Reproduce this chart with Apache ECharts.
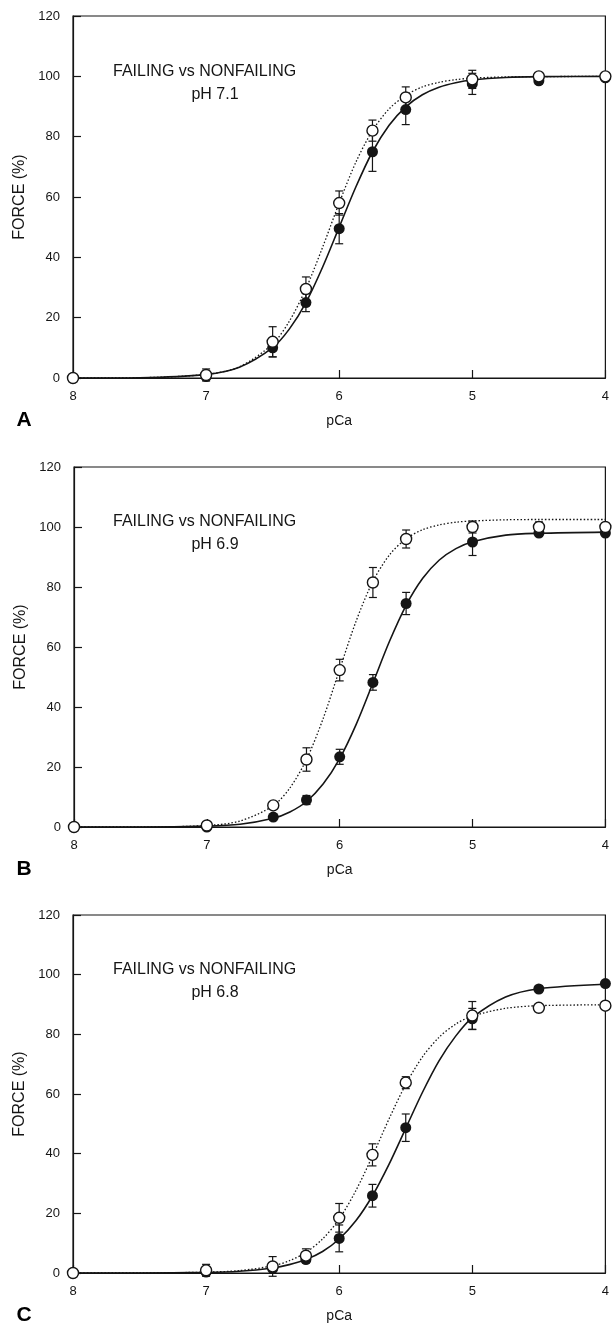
<!DOCTYPE html>
<html>
<head>
<meta charset="utf-8">
<script src="https://cdn.jsdelivr.net/npm/echarts@6.0.0/dist/echarts.min.js"></script>
<style>
  html, body { margin: 0; padding: 0; background: #fff; }
  #main { width: 612px; height: 1330px; }
</style>
</head>
<body>
<div id="main"></div>
<script>
// measured pCa steps
const pCa = [8, 7, 6.5, 6.25, 6, 5.75, 5.5, 5, 4.5, 4];
const xTicks = [8, 7, 6, 5, 4];
const yTicks = [0, 20, 40, 60, 80, 100, 120];

// A  pH 7.1
const failA = [0, 0.5, 10, 25, 49.5, 75, 89, 97.5, 98.5, 99.5];
const failAErr = [0, 0, 3, 3, 5, 6.5, 5, 3.5, 1, 0];
const nonA = [0, 1, 12, 29.5, 58, 82, 93, 99, 100, 100];
const nonAErr = [0, 2, 5, 4, 4, 3.5, 3.5, 3, 0.5, 0];
// B  pH 6.9
const failB = [0, 0, 3.3, 9, 23.4, 48.2, 74.5, 95, 98, 98];
const failBErr = [0, 0, 0.5, 1.5, 2.5, 2.6, 3.7, 4.5, 1, 0];
const nonB = [0, 0.5, 7.2, 22.5, 52.3, 81.5, 96, 100, 100, 100];
const nonBErr = [0, 0, 1, 3.9, 3.6, 5, 3, 2, 1.7, 0];
// C  pH 6.8
const failC = [0, 0.3, 1.5, 4.5, 11.6, 25.9, 48.7, 85.2, 95.2, 97];
const failCErr = [0, 0, 0, 1, 4.5, 3.8, 4.6, 3.5, 0, 0];
const nonC = [0, 0.9, 2.2, 5.8, 18.5, 39.6, 63.8, 86.3, 88.9, 89.6];
const nonCErr = [0, 2, 3.3, 2.3, 4.8, 3.7, 2, 4.7, 0, 0];

// fitted curves
const curvePCa = [8, 7.5, 7, 6.75, 6.5, 6.375, 6.25, 6.125, 6, 5.875, 5.75, 5.625, 5.5, 5.375, 5.25, 5.125, 5, 4.75, 4.5, 4];
const fitFailA = [0, 0.1, 1.2, 3.6, 10.1, 16.2, 25, 36.7, 50, 63.3, 75, 83.8, 89.9, 93.9, 96.4, 97.9, 98.8, 99.6, 99.9, 100];
const fitNonA = [0, 0.1, 1.2, 3.7, 11.3, 18.8, 29.6, 43.3, 58, 71.5, 82, 89.2, 93.7, 96.5, 98, 98.9, 99.4, 99.8, 99.9, 100];
const fitFailB = [0, 0, 0.3, 0.9, 2.9, 5, 8.5, 14.3, 22.8, 34.3, 48, 61.9, 73.9, 82.9, 89, 92.8, 95.1, 97.3, 97.9, 98.3];
const fitNonB = [0, 0, 0.5, 2, 7.1, 13, 22.5, 36.1, 52.6, 68.8, 81.9, 90.7, 96.1, 99.1, 100.7, 101.6, 102, 102.4, 102.5, 102.5];
const fitFailC = [0, 0, 0.2, 0.6, 1.7, 2.8, 4.5, 7.2, 11.4, 17.5, 25.9, 36.5, 48.5, 60.5, 71.1, 79.4, 85.6, 92.5, 95.3, 96.8];
const fitNonC = [0, 0, 0.3, 0.8, 2.4, 4.1, 6.9, 11.4, 18.1, 27.6, 39.2, 51.7, 63.2, 72.4, 79, 83.4, 86.1, 88.7, 89.6, 89.9];

const panelLetters = ['A', 'B', 'C'];
const phLabels = ['pH 7.1', 'pH 6.9', 'pH 6.8'];

const panels = [
  { fail: failA, failErr: failAErr, non: nonA, nonErr: nonAErr, fitFail: fitFailA, fitNon: fitNonA },
  { fail: failB, failErr: failBErr, non: nonB, nonErr: nonBErr, fitFail: fitFailB, fitNon: fitNonB },
  { fail: failC, failErr: failCErr, non: nonC, nonErr: nonCErr, fitFail: fitFailC, fitNon: fitNonC }
];

// layout of the three frames (px)
const grids = [
  { left: 73, top: 16, width: 536, height: 362 },
  { left: 74, top: 467, width: 535, height: 360 },
  { left: 73, top: 915, width: 536, height: 358 }
];

const ink = '#151515';
const font = '"Liberation Sans", Arial, sans-serif';

function pairs(xs, ys) {
  return xs.map((x, i) => [x, ys[i]]);
}
function errRows(xs, ys, es) {
  return xs.map((x, i) => [x, ys[i] - es[i], ys[i] + es[i]]).filter(d => d[2] > d[1]);
}

function renderErr(params, api) {
  const x = api.value(0);
  const lo = api.coord([x, api.value(1)]);
  const hi = api.coord([x, api.value(2)]);
  const w = 4;
  const style = { stroke: ink, lineWidth: 1.2 };
  return {
    type: 'group',
    children: [
      { type: 'line', shape: { x1: lo[0], y1: lo[1], x2: hi[0], y2: hi[1] }, style: style },
      { type: 'line', shape: { x1: lo[0] - w, y1: lo[1], x2: lo[0] + w, y2: lo[1] }, style: style },
      { type: 'line', shape: { x1: hi[0] - w, y1: hi[1], x2: hi[0] + w, y2: hi[1] }, style: style }
    ]
  };
}

const option = {
  animation: false,
  backgroundColor: '#fff',
  grid: [],
  xAxis: [],
  yAxis: [],
  series: [],
  graphic: []
};

panels.forEach((p, i) => {
  const g = grids[i];
  option.grid.push(Object.assign({ show: true, borderColor: ink, borderWidth: 1.2, backgroundColor: 'transparent' }, g));

  option.xAxis.push({
    gridIndex: i,
    type: 'value',
    inverse: true,
    min: xTicks[xTicks.length - 1],
    max: xTicks[0],
    interval: 1,
    name: 'pCa',
    nameLocation: 'middle',
    nameGap: 36,
    nameTextStyle: { fontFamily: font, fontSize: 14, color: ink },
    axisLine: { lineStyle: { color: ink, width: 1.2 } },
    axisTick: { inside: true, length: 8, lineStyle: { color: ink, width: 1.2 } },
    axisLabel: { fontFamily: font, fontSize: 13, color: ink, margin: 12 },
    splitLine: { show: false }
  });

  option.yAxis.push({
    gridIndex: i,
    type: 'value',
    min: yTicks[0],
    max: yTicks[yTicks.length - 1],
    interval: 20,
    name: 'FORCE (%)',
    nameLocation: 'middle',
    nameGap: 45,
    nameTextStyle: { fontFamily: font, fontSize: 16, color: ink },
    axisLine: { lineStyle: { color: ink, width: 1.2 } },
    axisTick: { inside: true, length: 8, lineStyle: { color: ink, width: 1.2 } },
    axisLabel: { fontFamily: font, fontSize: 13, color: ink, margin: 13 },
    splitLine: { show: false }
  });

  // error bars
  [[p.fail, p.failErr], [p.non, p.nonErr]].forEach(function (pair) {
    option.series.push({
      type: 'custom',
      xAxisIndex: i,
      yAxisIndex: i,
      renderItem: renderErr,
      encode: { x: 0, y: [1, 2] },
      data: errRows(pCa, pair[0], pair[1]),
      z: 2,
      silent: true
    });
  });

  // fitted curves
  option.series.push({
    name: 'Failing fit',
    type: 'line',
    xAxisIndex: i,
    yAxisIndex: i,
    data: pairs(curvePCa, p.fitFail),
    showSymbol: false,
    smooth: 0.3,
    lineStyle: { color: ink, width: 1.6 },
    z: 3
  });
  option.series.push({
    name: 'Nonfailing fit',
    type: 'line',
    xAxisIndex: i,
    yAxisIndex: i,
    data: pairs(curvePCa, p.fitNon),
    showSymbol: false,
    smooth: 0.3,
    lineStyle: { color: ink, width: 1.3, type: [1.5, 2] },
    z: 3
  });

  // points
  option.series.push({
    name: 'Failing',
    type: 'scatter',
    xAxisIndex: i,
    yAxisIndex: i,
    data: pairs(pCa, p.fail),
    symbol: 'circle',
    symbolSize: 11,
    itemStyle: { color: ink, opacity: 1 },
    z: 5
  });
  option.series.push({
    name: 'Nonfailing',
    type: 'scatter',
    xAxisIndex: i,
    yAxisIndex: i,
    data: pairs(pCa, p.non),
    symbol: 'circle',
    symbolSize: 11,
    itemStyle: { color: '#fff', borderColor: ink, borderWidth: 1.4, opacity: 1 },
    z: 6
  });

  // annotations
  const y100 = g.top + g.height / 6;
  option.graphic.push({
    type: 'text',
    style: { text: 'FAILING vs NONFAILING', x: 113, y: y100 - 5, fill: ink, font: '16px ' + font, verticalAlign: 'middle' }
  });
  option.graphic.push({
    type: 'text',
    style: { text: phLabels[i], x: 215, y: y100 + 18, fill: ink, font: '16px ' + font, align: 'center', verticalAlign: 'middle' }
  });
  option.graphic.push({
    type: 'text',
    style: { text: panelLetters[i], x: 24, y: g.top + g.height + 42, fill: '#000', font: 'bold 21px ' + font, align: 'center', verticalAlign: 'middle' }
  });
});

const myChart = echarts.init(document.getElementById('main'), null, { renderer: 'canvas' });
myChart.setOption(option);
</script>
</body>
</html>
